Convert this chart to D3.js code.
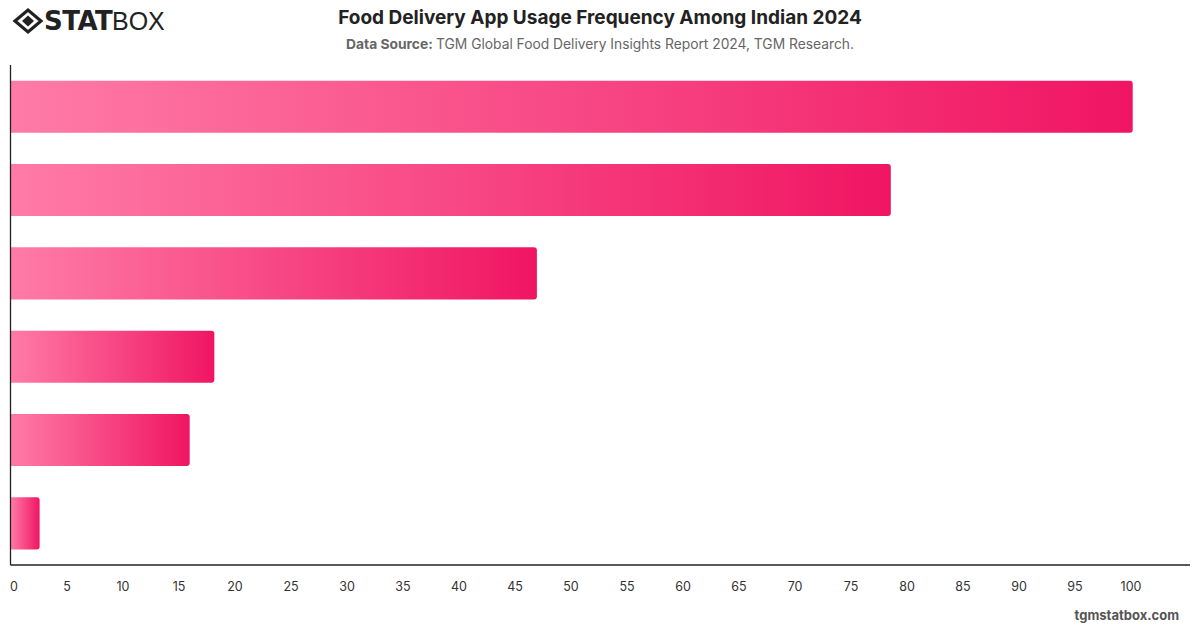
<!DOCTYPE html>
<html>
<head>
<meta charset="utf-8">
<script src="https://cdn.jsdelivr.net/npm/d3@7"></script>
<style>
  body { margin: 0; background: #fff; }
  svg { display: block; font-family: Inter, "Liberation Sans", sans-serif; }
</style>
</head>
<body>
<div id="chart"></div>
<script>
// categories have no visible labels in the original, keep placeholders
const categories = ["c1", "c2", "c3", "c4", "c5", "c6"];
const values = [100.2, 78.6, 47, 18.2, 16, 2.6];
const xTicks = d3.range(0, 101, 5);

const width = 1200;
const height = 628;
const margin = { top: 65, right: 10, bottom: 63, left: 10.5 };

const svg = d3.select("#chart")
    .append("svg")
    .attr("width", width)
    .attr("height", height);

//x scale, 0 to 100 sits at 10.5 -> 1130.5
const xScale = d3.scaleLinear()
    .domain([0, 100])
    .range([margin.left, 1130.5]);

const yScale = d3.scaleBand()
    .domain(categories)
    .range([margin.top, height - margin.bottom])
    .paddingInner(0.375)
    .paddingOuter(0.1875);

//gradient per bar
const defs = svg.append("defs");
const grad = defs.append("linearGradient")
    .attr("id", "barGrad")
    .attr("x1", "0%").attr("y1", "0%")
    .attr("x2", "100%").attr("y2", "0%");
grad.append("stop").attr("offset", "0%").attr("stop-color", "#ff7ba7");
grad.append("stop").attr("offset", "100%").attr("stop-color", "#f01562");

//bars with rounded right end only
const r = 3;
svg.selectAll(".bar")
    .data(values)
    .enter()
    .append("path")
    .attr("class", "bar")
    .attr("fill", "url(#barGrad)")
    .attr("d", function(d, i) {
        const x0 = xScale(0);
        const x1 = xScale(d);
        const y0 = yScale(categories[i]);
        const h = yScale.bandwidth();
        return "M" + x0 + "," + y0 +
            "H" + (x1 - r) +
            "Q" + x1 + "," + y0 + " " + x1 + "," + (y0 + r) +
            "V" + (y0 + h - r) +
            "Q" + x1 + "," + (y0 + h) + " " + (x1 - r) + "," + (y0 + h) +
            "H" + x0 + "Z";
    });

//axes lines
const axisY = height - margin.bottom;
svg.append("line")
    .attr("x1", margin.left).attr("x2", margin.left)
    .attr("y1", margin.top).attr("y2", axisY)
    .attr("stroke", "#222").attr("stroke-width", 1.3);

svg.append("line")
    .attr("x1", margin.left).attr("x2", width - margin.right)
    .attr("y1", axisY).attr("y2", axisY)
    .attr("stroke", "#222").attr("stroke-width", 1.3);

//x tick labels
const xAxis = svg.append("g")
    .attr("transform", "translate(0," + axisY + ")")
    .call(d3.axisBottom(xScale).tickValues(xTicks).tickSize(0).tickPadding(17));
xAxis.select(".domain").remove();
xAxis.selectAll("text")
    .attr("fill", "#333")
    .style("font-size", "12.5px")
    .style("font-family", "Inter, 'Liberation Sans', sans-serif");
xAxis.selectAll(".tick").filter(function(d) { return d === 0; })
    .select("text").attr("dx", 3);

//title
svg.append("text")
    .attr("x", 600)
    .attr("y", 24)
    .attr("text-anchor", "middle")
    .attr("font-size", "19px")
    .attr("font-weight", "bold")
    .attr("fill", "#222")
    .text("Food Delivery App Usage Frequency Among Indian 2024");

const sub = svg.append("text")
    .attr("x", 600)
    .attr("y", 49)
    .attr("text-anchor", "middle")
    .attr("font-size", "13.8px")
    .attr("fill", "#666");
sub.append("tspan").attr("font-weight", "bold").text("Data Source: ");
sub.append("tspan").text("TGM Global Food Delivery Insights Report 2024, TGM Research.");

//logo
const logo = svg.append("g").attr("transform", "translate(28,21)");
logo.append("path")
    .attr("d", "M-13,0 L0,-11 L13,0 L0,11 Z")
    .attr("fill", "none").attr("stroke", "#222").attr("stroke-width", 3.2);
logo.append("path")
    .attr("d", "M-6,0 L0,-5.5 L6,0 L0,5.5 Z")
    .attr("fill", "#222");
svg.append("text")
    .attr("x", 44).attr("y", 30)
    .attr("font-size", "26px")
    .attr("font-weight", "900")
    .attr("fill", "#222")
    .attr("font-family", "'DejaVu Sans', sans-serif")
    .attr("letter-spacing", "-0.5")
    .text("STAT");
svg.append("text")
    .attr("x", 112).attr("y", 30)
    .attr("font-size", "25px")
    .attr("font-weight", "300")
    .attr("fill", "#222")
    .attr("font-family", "'Liberation Sans', sans-serif")
    .text("BOX");

//watermark
svg.append("text")
    .attr("x", 1179)
    .attr("y", 620)
    .attr("text-anchor", "end")
    .attr("font-size", "13px")
    .attr("font-weight", "bold")
    .attr("fill", "#555")
    .text("tgmstatbox.com");
</script>
</body>
</html>
